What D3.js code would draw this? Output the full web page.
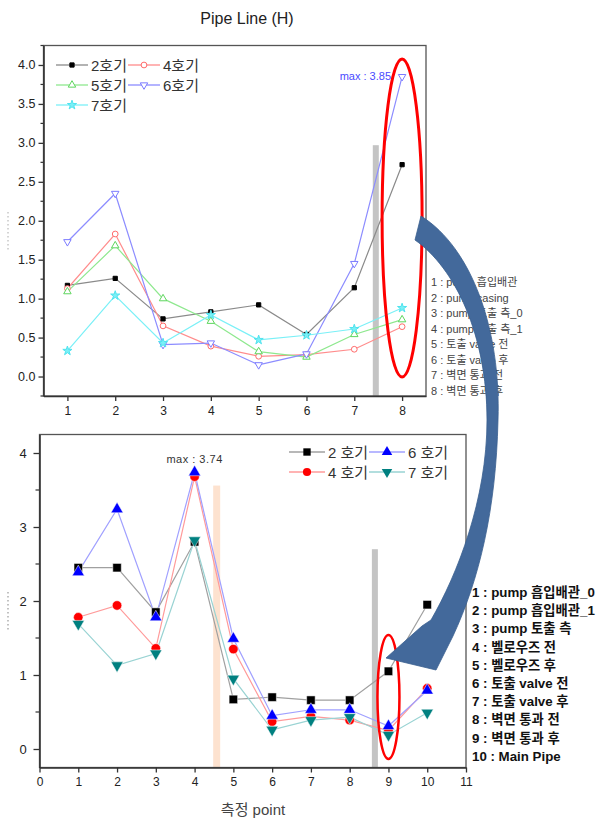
<!DOCTYPE html>
<html><head><meta charset="utf-8">
<script src="https://cdn.jsdelivr.net/npm/d3@7/dist/d3.min.js"></script>
<style>
html,body{margin:0;padding:0;background:#fff;}
svg{display:block;font-family:"Liberation Sans",Arial,"Noto Sans CJK KR",sans-serif;}
</style></head>
<body>
<svg id="chart" width="602" height="821"></svg>
<script>
// ---------- data ----------
const chartTitle = "Pipe Line (H)";
const topPoints = [1, 2, 3, 4, 5, 6, 7, 8];
const topNames = ["2호기", "4호기", "5호기", "6호기", "7호기"];
const top2 = [1.17, 1.26, 0.74, 0.83, 0.92, 0.54, 1.14, 2.72];
const top4 = [1.13, 1.83, 0.65, 0.39, 0.26, 0.28, 0.35, 0.64];
const top5 = [1.09, 1.68, 1.00, 0.71, 0.32, 0.25, 0.54, 0.73];
const top6 = [1.73, 2.35, 0.41, 0.43, 0.15, 0.29, 1.45, 3.85];
const top7 = [0.33, 1.04, 0.43, 0.79, 0.47, 0.53, 0.61, 0.88];
const topYTicks = [0, 0.5, 1, 1.5, 2, 2.5, 3, 3.5, 4];
const topXTicks = [1, 2, 3, 4, 5, 6, 7, 8];
const topMaxLabel = "max : 3.85";
const topNotes = ["1 : pump 흡입배관", "2 : pump casing", "3 : pump 토출 측_0", "4 : pump 토출 측_1",
  "5 : 토출 valve 전", "6 : 토출 valve 후", "7 : 벽면 통과 전", "8 : 벽면 통과 후"];

const botPoints = [1, 2, 3, 4, 5, 6, 7, 8, 9, 10];
const botNames = ["2 호기", "4 호기", "6 호기", "7 호기"];
const bot2 = [2.45, 2.45, 1.85, 2.80, 0.67, 0.70, 0.66, 0.66, 1.05, 1.95];
const bot4 = [1.78, 1.94, 1.36, 3.68, 1.35, 0.37, 0.44, 0.39, 0.25, 0.82];
const bot6 = [2.39, 3.24, 1.78, 3.74, 1.49, 0.45, 0.53, 0.53, 0.31, 0.79];
const bot7 = [1.69, 1.13, 1.29, 2.82, 0.95, 0.26, 0.39, 0.43, 0.19, 0.49];
const botYTicks = [0, 1, 2, 3, 4];
const botXTicks = [0, 1, 2, 3, 4, 5, 6, 7, 8, 9, 10, 11];
const botMaxLabel = "max : 3.74";
const botXTitle = "측정 point";
const botNotes = ["1 : pump 흡입배관_0", "2 : pump 흡입배관_1", "3 : pump 토출 측", "4 : 벨로우즈 전",
  "5 : 벨로우즈 후", "6 : 토출 valve 전", "7 : 토출 valve 후", "8 : 벽면 통과 전", "9 : 벽면 통과 후", "10 : Main Pipe"];

// ---------- drawing ----------
const svg = d3.select("#chart");
const axisColor = "#333";

function drawFrame(g, x, y) {
  const [x0, x1] = x.range(), [y0, y1] = y.range();
  g.append("rect").attr("x", x0).attr("y", y1).attr("width", x1 - x0).attr("height", y0 - y1)
    .attr("fill", "none").attr("stroke", "#555").attr("stroke-width", 1.3);
}
function symbolPath(type, size) { return d3.symbol().type(type).size(size)(); }

// ===== TOP CHART =====
const tx = d3.scaleLinear().domain([0.5, 8.5]).range([43.5, 426]);
const ty = d3.scaleLinear().domain([-0.25, 4.25]).range([396, 45.5]);
const gt = svg.append("g");

svg.append("text").attr("x", 247).attr("y", 24).attr("text-anchor", "middle")
  .attr("font-size", 16).attr("fill", "#222").text(chartTitle);

// faint cropped y-axis title
gt.append("line").attr("x1", 8).attr("x2", 8).attr("y1", 212).attr("y2", 252)
  .attr("stroke", "#aaa").attr("stroke-width", 1).attr("stroke-dasharray", "1.5,2.5");

gt.append("rect").attr("x", tx(7.45) - 3).attr("y", ty(2.97)).attr("width", 6)
  .attr("height", ty(-0.25) - ty(2.97)).attr("fill", "#c4c4c4");

drawFrame(gt, tx, ty);

const tyAxis = d3.axisLeft(ty).tickValues(topYTicks).tickFormat(d3.format(".1f")).tickSize(5).tickSizeOuter(0);
gt.append("g").attr("transform", `translate(${tx.range()[0]},0)`).call(tyAxis)
  .call(a => { a.select(".domain").attr("stroke", axisColor).attr("stroke-width", 1.6);
    a.selectAll(".tick line").attr("stroke", axisColor).attr("stroke-width", 1.3);
    a.selectAll("text").attr("font-size", 12.5).attr("fill", "#222"); });
gt.append("g").selectAll("line").data(d3.range(-0.25, 4.26, 0.5))
  .join("line").attr("x1", tx.range()[0] - 3).attr("x2", tx.range()[0]).attr("y1", d => ty(d)).attr("y2", d => ty(d))
  .attr("stroke", axisColor).attr("stroke-width", 1.2);
const txAxis = d3.axisBottom(tx).tickValues(topXTicks).tickFormat(d3.format("d")).tickSize(5).tickSizeOuter(0);
gt.append("g").attr("transform", `translate(0,${ty.range()[0]})`).call(txAxis)
  .call(a => { a.select(".domain").attr("stroke", axisColor).attr("stroke-width", 1.6);
    a.selectAll(".tick line").attr("stroke", axisColor).attr("stroke-width", 1.3);
    a.selectAll("text").attr("font-size", 12).attr("fill", "#222").attr("dy", "0.9em"); });

const topSeries = [
  {name: topNames[0], values: top2, line: "#8a8a8a", sym: d3.symbolSquare, size: 18, fill: "#000", stroke: "#000"},
  {name: topNames[1], values: top4, line: "#ff8c8c", sym: d3.symbolCircle, size: 26, fill: "#fff", stroke: "#ff6b6b"},
  {name: topNames[2], values: top5, line: "#8ee88e", sym: d3.symbolTriangle, size: 24, fill: "#fff", stroke: "#5ed65e"},
  {name: topNames[3], values: top6, line: "#8c8cff", sym: d3.symbolTriangle, size: 24, fill: "#fff", stroke: "#7b7bff", rot: 180},
  {name: topNames[4], values: top7, line: "#7af0f7", sym: d3.symbolStar, size: 26, fill: "#7af0f7", stroke: "#4fe3ee"}
];
const tline = d3.line().x((d, i) => tx(topPoints[i])).y(d => ty(d));
topSeries.forEach(s => {
  gt.append("path").attr("d", tline(s.values)).attr("fill", "none").attr("stroke", s.line).attr("stroke-width", 1.2);
});
topSeries.forEach(s => {
  gt.append("g").selectAll("path").data(s.values).join("path")
    .attr("d", symbolPath(s.sym, s.size))
    .attr("transform", (d, i) => `translate(${tx(topPoints[i])},${ty(d)}) rotate(${s.rot || 0})`)
    .attr("fill", s.fill).attr("stroke", s.stroke).attr("stroke-width", 1);
});

const tLegPos = [[56, 65], [128, 65], [56, 85], [128, 85], [56, 105]];
topSeries.forEach((s, i) => {
  const [lx, ly] = tLegPos[i];
  const lg = gt.append("g");
  lg.append("line").attr("x1", lx).attr("x2", lx + 32).attr("y1", ly).attr("y2", ly).attr("stroke", s.line).attr("stroke-width", 1.3);
  lg.append("path").attr("d", symbolPath(s.sym, s.size)).attr("transform", `translate(${lx + 16},${ly}) rotate(${s.rot || 0})`)
    .attr("fill", s.fill).attr("stroke", s.stroke);
  lg.append("text").attr("x", lx + 35).attr("y", ly + 5.5).attr("font-size", 15).attr("fill", "#333").text(s.name);
});

gt.append("text").attr("x", 391).attr("y", 80).attr("text-anchor", "end").attr("font-size", 11)
  .attr("fill", "#4a4aff").text(topMaxLabel);
gt.append("ellipse").attr("cx", tx(8)).attr("cy", 218).attr("rx", 20).attr("ry", 159)
  .attr("fill", "none").attr("stroke", "#f00").attr("stroke-width", 3);

gt.append("g").selectAll("text").data(topNotes).join("text")
  .attr("x", 431).attr("y", (d, i) => 286 + i * 15.5).attr("font-size", 11).attr("fill", "#444").text(d => d);

// ===== BOTTOM CHART =====
const bx = d3.scaleLinear().domain([0, 11]).range([39.5, 466]);
const by = d3.scaleLinear().domain([-0.25, 4.25]).range([767.5, 434.5]);
const gb = svg.append("g");

gb.append("line").attr("x1", 8).attr("x2", 8).attr("y1", 592).attr("y2", 632)
  .attr("stroke", "#999").attr("stroke-width", 1.2).attr("stroke-dasharray", "1.5,2.5");

gb.append("rect").attr("x", bx(4.57) - 3.5).attr("y", by(3.56)).attr("width", 7)
  .attr("height", by(-0.25) - by(3.56)).attr("fill", "#fde2cf");
gb.append("rect").attr("x", bx(8.65) - 3).attr("y", by(2.70)).attr("width", 6)
  .attr("height", by(-0.25) - by(2.70)).attr("fill", "#c4c4c4");

drawFrame(gb, bx, by);

const byAxis = d3.axisLeft(by).tickValues(botYTicks).tickFormat(d3.format("d")).tickSize(6).tickSizeOuter(0);
gb.append("g").attr("transform", `translate(${bx.range()[0]},0)`).call(byAxis)
  .call(a => { a.select(".domain").attr("stroke", axisColor).attr("stroke-width", 1.6);
    a.selectAll(".tick line").attr("stroke", axisColor).attr("stroke-width", 1.3);
    a.selectAll("text").attr("font-size", 13).attr("fill", "#222").attr("dx", "-0.3em"); });
gb.append("g").selectAll("line").data([0.5, 1.5, 2.5, 3.5])
  .join("line").attr("x1", bx.range()[0] - 4).attr("x2", bx.range()[0]).attr("y1", d => by(d)).attr("y2", d => by(d))
  .attr("stroke", axisColor).attr("stroke-width", 1.2);
const bxAxis = d3.axisBottom(bx).tickValues(botXTicks).tickFormat(d3.format("d")).tickSize(5).tickSizeOuter(0);
gb.append("g").attr("transform", `translate(0,${by.range()[0]})`).call(bxAxis)
  .call(a => { a.select(".domain").attr("stroke", axisColor).attr("stroke-width", 1.6);
    a.selectAll(".tick line").attr("stroke", axisColor).attr("stroke-width", 1.3);
    a.selectAll("text").attr("font-size", 12).attr("fill", "#222").attr("dy", "0.85em"); });
gb.append("text").attr("x", 253).attr("y", 815).attr("text-anchor", "middle").attr("font-size", 15)
  .attr("fill", "#444").text(botXTitle);

const botSeries = [
  {name: botNames[0], values: bot2, line: "#a0a0a0", sym: d3.symbolSquare, size: 72, fill: "#000"},
  {name: botNames[1], values: bot4, line: "#ff9a9a", sym: d3.symbolCircle, size: 70, fill: "#ff0000"},
  {name: botNames[2], values: bot6, line: "#a0a0ff", sym: d3.symbolTriangle, size: 64, fill: "#0000ff"},
  {name: botNames[3], values: bot7, line: "#99d3d3", sym: d3.symbolTriangle, size: 64, fill: "#008080", rot: 180}
];
const bline = d3.line().x((d, i) => bx(botPoints[i])).y(d => by(d));
botSeries.forEach(s => {
  gb.append("path").attr("d", bline(s.values)).attr("fill", "none").attr("stroke", s.line).attr("stroke-width", 1.2);
});
botSeries.forEach(s => {
  gb.append("g").selectAll("path").data(s.values).join("path")
    .attr("d", symbolPath(s.sym, s.size))
    .attr("transform", (d, i) => `translate(${bx(botPoints[i])},${by(d)}) rotate(${s.rot || 0})`)
    .attr("fill", s.fill).attr("stroke", "#fff").attr("stroke-width", 0.5);
});

const bLeg = [[botSeries[0], 289, 452], [botSeries[2], 369, 452], [botSeries[1], 289, 472], [botSeries[3], 369, 472]];
bLeg.forEach(([s, lx, ly]) => {
  const lg = gb.append("g");
  lg.append("line").attr("x1", lx).attr("x2", lx + 36).attr("y1", ly).attr("y2", ly).attr("stroke", s.line).attr("stroke-width", 1.3);
  lg.append("path").attr("d", symbolPath(s.sym, s.size * 0.75)).attr("transform", `translate(${lx + 18},${ly}) rotate(${s.rot || 0})`)
    .attr("fill", s.fill);
  lg.append("text").attr("x", lx + 39).attr("y", ly + 5.5).attr("font-size", 15).attr("fill", "#333").text(s.name);
});

gb.append("text").attr("x", bx(4)).attr("y", 463).attr("text-anchor", "middle").attr("font-size", 11)
  .attr("fill", "#333").attr("letter-spacing", 0.5).text(botMaxLabel);
gb.append("ellipse").attr("cx", bx(9)).attr("cy", 697).attr("rx", 11).attr("ry", 62)
  .attr("fill", "none").attr("stroke", "#f00").attr("stroke-width", 2.5);

gb.append("g").selectAll("text").data(botNotes).join("text")
  .attr("x", 472).attr("y", (d, i) => 597 + i * 18.2).attr("font-size", 13.3).attr("font-weight", "bold")
  .attr("fill", "#111").text(d => d);

// ===== curved blue arrow =====
svg.append("path")
  .attr("d", "M421,216 C472,248 501,330 498,420 C496,510 479,580 453,636 L436,670 L386,658 L422,626 L431,620 C457,575 487,500 487,420 C487,335 455,268 415,240 Z")
  .attr("fill", "#43699b").attr("stroke", "#3a5f8f").attr("stroke-width", 0.8);
</script>
</body></html>
